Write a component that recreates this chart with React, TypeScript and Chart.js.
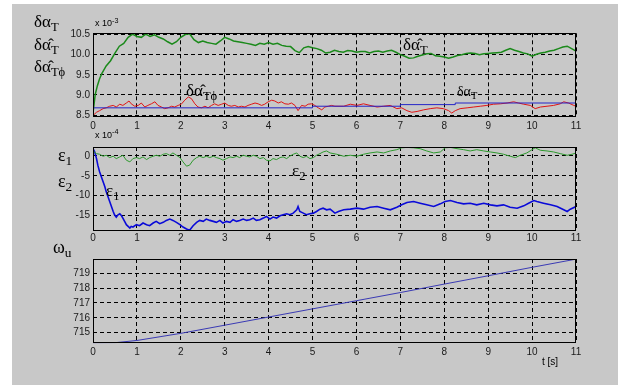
import React, { useEffect, useRef } from "react";
import { Chart, registerables } from "chart.js";
Chart.register(...registerables);

// ---------- tick labels ----------
const xTicks = [0, 1, 2, 3, 4, 5, 6, 7, 8, 9, 10, 11];
const y1Ticks = [8.5, 9, 9.5, 10, 10.5];
const y2Ticks = [-15, -10, -5, 0];
const y3Ticks = [715, 716, 717, 718, 719];

// ---------- panel 1 (x 10^-3) ----------
const tHatT = [0, 0.05, 0.1, 0.15, 0.2, 0.3, 0.4, 0.5, 0.6, 0.7, 0.8, 0.9,
  1.0, 1.1, 1.2, 1.3, 1.4, 1.5, 1.6, 1.7, 1.8, 1.9,
  2.0, 2.1, 2.2, 2.3, 2.4, 2.5, 2.6, 2.7, 2.8, 2.9,
  3.0, 3.1, 3.2, 3.3, 3.4, 3.5, 3.6, 3.7, 3.8, 3.9,
  4.0, 4.1, 4.2, 4.3, 4.4, 4.5, 4.6, 4.7, 4.8, 4.9,
  5.0, 5.1, 5.2, 5.3, 5.4, 5.5, 5.6, 5.7, 5.8, 5.9,
  6.0, 6.1, 6.2, 6.3, 6.4, 6.5, 6.6, 6.7, 6.8, 6.9,
  7.0, 7.1, 7.2, 7.3, 7.4, 7.5, 7.6, 7.7, 7.8, 7.9,
  8.0, 8.1, 8.2, 8.3, 8.4, 8.5, 8.6, 8.7, 8.8, 8.9,
  9.0, 9.1, 9.2, 9.3, 9.4, 9.5, 9.6, 9.7, 9.8, 9.9,
  10.0, 10.1, 10.2, 10.3, 10.4, 10.5, 10.6, 10.7, 10.8, 10.9, 11.0];
const vHatT = [8.55, 9.01, 9.23, 9.40, 9.53, 9.72, 9.85, 10.04, 10.21, 10.28, 10.43, 10.51,
  10.45, 10.43, 10.51, 10.45, 10.49, 10.43, 10.39, 10.32, 10.26, 10.32,
  10.43, 10.50, 10.52, 10.37, 10.30, 10.34, 10.30, 10.28, 10.26, 10.34,
  10.43, 10.39, 10.34, 10.32, 10.30, 10.28, 10.26, 10.23, 10.28, 10.26,
  10.30, 10.26, 10.28, 10.23, 10.21, 10.20, 10.10, 10.05, 10.17, 10.20,
  10.17, 10.15, 10.11, 10.04, 10.06, 10.11, 10.08, 10.06, 10.10, 10.09,
  10.06, 10.08, 10.08, 10.04, 10.08, 10.09, 10.06, 10.09, 10.11, 10.06,
  10.00, 9.96, 9.91, 9.92, 9.96, 9.99, 10.02, 10.03, 9.97, 9.96,
  9.94, 9.91, 9.94, 9.98, 10.00, 10.03, 10.04, 10.03, 10.00, 10.02,
  10.03, 10.04, 10.05, 10.06, 10.11, 10.15, 10.11, 10.08, 10.04, 10.02,
  9.96, 10.01, 10.04, 10.06, 10.09, 10.11, 10.15, 10.19, 10.21, 10.15, 10.09];

const tHatTphi = [0, 0.08, 0.15, 0.23, 0.30, 0.38, 0.46, 0.53, 0.61, 0.68, 0.76, 0.82, 0.87, 0.95,
  1.03, 1.10, 1.18, 1.25, 1.33, 1.41, 1.48, 1.56, 1.63, 1.71, 1.79, 1.86, 1.94,
  2.01, 2.09, 2.17, 2.24, 2.32, 2.39, 2.47, 2.55, 2.62, 2.70, 2.77, 2.85, 2.93,
  3.00, 3.08, 3.15, 3.23, 3.31, 3.38, 3.46, 3.53, 3.61, 3.69, 3.76, 3.84, 3.91, 3.99,
  4.07, 4.14, 4.22, 4.29, 4.37, 4.45, 4.52, 4.60, 4.67, 4.75, 4.83, 4.90, 4.98,
  5.05, 5.13, 5.21, 5.28, 5.36, 5.43, 5.51, 5.71, 5.86,
  6.01, 6.16, 6.31, 6.47, 6.62, 6.77, 6.92, 7.03, 7.15, 7.26, 7.38, 7.53, 7.68, 7.83, 7.98,
  8.10, 8.17, 8.25, 8.36, 8.52, 8.67, 8.82, 8.97, 9.12, 9.28, 9.43, 9.58, 9.69, 9.81, 9.96,
  10.07, 10.19, 10.34, 10.49, 10.64, 10.72, 10.83, 10.95, 11.0];
const vHatTphi = [8.49, 8.57, 8.61, 8.66, 8.68, 8.72, 8.74, 8.70, 8.77, 8.74, 8.80, 8.85, 8.78, 8.72,
  8.74, 8.80, 8.70, 8.74, 8.78, 8.83, 8.74, 8.70, 8.66, 8.68, 8.72, 8.70, 8.74,
  8.77, 8.87, 8.95, 8.91, 8.78, 8.70, 8.68, 8.72, 8.68, 8.74, 8.78, 8.74, 8.77,
  8.80, 8.74, 8.72, 8.74, 8.70, 8.72, 8.70, 8.74, 8.77, 8.80, 8.78, 8.74, 8.77, 8.83,
  8.87, 8.85, 8.80, 8.83, 8.78, 8.77, 8.80, 8.74, 8.61, 8.74, 8.72, 8.77, 8.78,
  8.74, 8.68, 8.63, 8.70, 8.72, 8.74, 8.72, 8.72, 8.77,
  8.74, 8.78, 8.74, 8.70, 8.72, 8.74, 8.66, 8.68, 8.61, 8.57, 8.59, 8.63, 8.66, 8.68, 8.66,
  8.61, 8.55, 8.61, 8.66, 8.68, 8.70, 8.72, 8.74, 8.77, 8.78, 8.80, 8.83, 8.80, 8.77, 8.74,
  8.66, 8.70, 8.72, 8.74, 8.78, 8.83, 8.80, 8.74, 8.72];

const tTrue = [0, 5, 7, 8.25, 11];
const vTrue = [8.68, 8.72, 8.76, 8.80, 8.80];

// ---------- panel 2 (x 10^-4) ----------
const tEps2 = [0, 0.08, 0.15, 0.23, 0.30, 0.38, 0.46, 0.53, 0.61, 0.68, 0.76, 0.84, 0.91, 0.99,
  1.06, 1.14, 1.22, 1.29, 1.37, 1.44, 1.52, 1.60, 1.67, 1.75, 1.82, 1.90, 1.98,
  2.05, 2.13, 2.20, 2.28, 2.36, 2.43, 2.51, 2.58, 2.66, 2.74, 2.81, 2.89, 2.96,
  3.04, 3.12, 3.19, 3.27, 3.34, 3.42, 3.50, 3.57, 3.65, 3.72, 3.80, 3.88, 3.95,
  4.03, 4.10, 4.18, 4.26, 4.33, 4.41, 4.48, 4.56, 4.64, 4.71, 4.79, 4.86, 4.94,
  5.02, 5.09, 5.17, 5.24, 5.32, 5.40, 5.55, 5.71, 5.86,
  6.01, 6.16, 6.31, 6.47, 6.62, 6.77, 6.92, 7.03, 7.15, 7.30, 7.45, 7.60, 7.76, 7.91,
  8.02, 8.14, 8.29, 8.44, 8.59, 8.74, 8.90, 9.05, 9.20, 9.35, 9.50, 9.62, 9.73, 9.88,
  10.0, 10.07, 10.19, 10.34, 10.49, 10.64, 10.80, 10.91, 11.0];
const vEps2 = [1.25, 0.58, 0.42, -0.08, 0.17, -0.42, -0.08, -0.67, -0.25, 0.17, -1.08, -1.5, -0.67, -0.42,
  -0.67, -0.25, -0.92, -0.42, -0.08, 0.17, -0.08, 0.42, 0.58, 0.17, 0.75, 0.17, -0.42,
  -1.5, -2.58, -2.33, -1.08, -0.42, -0.08, -0.42, -0.08, -0.42, -0.08, -0.42, -0.67, -1.08,
  -0.67, -0.25, -0.42, -0.08, -0.42, 0.17, -0.08, -0.25, 0.17, -0.08, -0.67, -0.42, -1.08,
  -1.25, -0.67, -0.92, -0.42, -0.25, -0.67, -0.08, 0.42, 0.75, -0.08, -0.42, -0.08, -0.67,
  -0.42, 0.17, 0.58, 1.0, 1.25, 0.75, 0.42, -0.08, 0.17,
  -0.08, 0.42, 0.75, 1.0, 0.75, 1.25, 1.58, 2.05, 2.15, 2.05, 1.83, 1.25, 0.75, 1.0,
  2.05, 2.15, 1.83, 1.58, 1.25, 1.58, 1.25, 1.0, 0.75, 0.42, -0.08, -0.42, 0.17, 0.75,
  1.58, 2.05, 1.42, 1.25, 1.0, 0.58, 0.17, 0.42, 0.75];

const tEps1 = [0, 0.04, 0.08, 0.11, 0.15, 0.19, 0.23, 0.27, 0.30, 0.34, 0.38, 0.42, 0.46, 0.49,
  0.53, 0.57, 0.61, 0.65, 0.68, 0.72, 0.76, 0.80, 0.84, 0.87, 0.91, 0.99,
  1.06, 1.14, 1.22, 1.29, 1.37, 1.44, 1.52, 1.60, 1.67, 1.75, 1.82, 1.90, 1.98,
  2.05, 2.13, 2.20, 2.28, 2.36, 2.43, 2.51, 2.58, 2.66, 2.74, 2.81, 2.89, 2.96,
  3.04, 3.12, 3.19, 3.27, 3.34, 3.42, 3.50, 3.57, 3.65, 3.72, 3.80, 3.88, 3.95,
  4.03, 4.10, 4.18, 4.26, 4.33, 4.41, 4.48, 4.56, 4.64, 4.67, 4.71, 4.79, 4.86, 4.94,
  5.02, 5.09, 5.17, 5.24, 5.32, 5.40, 5.51, 5.59, 5.71, 5.86,
  6.01, 6.16, 6.31, 6.47, 6.62, 6.77, 6.92, 7.03, 7.15, 7.30, 7.45, 7.60, 7.76, 7.91,
  8.02, 8.14, 8.29, 8.44, 8.59, 8.74, 8.90, 9.05, 9.20, 9.35, 9.50, 9.66, 9.81, 9.92,
  10.04, 10.11, 10.26, 10.42, 10.57, 10.72, 10.80, 10.87, 11.0];
const vEps1 = [1.83, 1.0, -0.67, -2.33, -4.0, -5.25, -6.5, -7.75, -9.0, -10.25, -11.5, -12.75, -14.0, -14.83,
  -15.42, -14.83, -14.58, -15.08, -15.67, -16.5, -17.33, -17.75, -18.17, -17.75, -17.92, -17.33,
  -17.58, -16.92, -17.33, -17.58, -16.92, -16.5, -17.08, -16.75, -16.25, -15.92, -16.25, -16.75, -17.33,
  -17.92, -18.42, -18.75, -17.58, -16.75, -16.25, -16.5, -15.92, -16.25, -16.5, -16.75, -16.25, -16.92,
  -16.5, -16.75, -16.08, -16.5, -16.25, -15.92, -16.25, -16.08, -15.67, -16.25, -16.08, -15.67, -15.25,
  -15.92, -15.42, -15.67, -15.08, -14.83, -14.58, -14.83, -14.42, -13.58, -12.75, -14.0, -14.42, -14.83, -14.58,
  -14.42, -14.0, -13.42, -13.17, -13.58, -13.42, -14.42, -14.0, -13.58, -13.42,
  -13.17, -13.42, -12.92, -12.75, -13.17, -13.58, -12.92, -12.33, -11.75, -11.5, -11.92, -12.33, -12.75, -12.08,
  -11.5, -11.25, -11.75, -12.08, -11.92, -12.33, -11.92, -12.33, -12.58, -12.33, -12.92, -13.17, -12.58, -11.92,
  -11.25, -11.5, -11.92, -12.33, -12.75, -13.58, -14.0, -13.42, -12.75];

// ---------- panel 3 ----------
const tOmega = [0, 0.5, 1, 2, 3, 4, 5, 6, 7, 8, 9, 10, 11];
const vOmega = [714.3, 714.32, 714.47, 714.95, 715.5, 716.05, 716.6, 717.15, 717.7, 718.27, 718.83, 719.4, 719.95];

const pts = (t: number[], v: number[]) => t.map((x, i) => ({ x, y: v[i] }));

const FIG_W = 625;
const PLOT_LEFT = 93;
const PLOT_RIGHT = 576;

const boxPlugin = {
  id: "box",
  afterDraw(chart: any) {
    const { ctx, chartArea: a } = chart;
    ctx.save();
    ctx.strokeStyle = "#000";
    ctx.lineWidth = 1;
    const l = Math.round(a.left) + 0.5;
    const t = Math.round(a.top) + 0.5;
    const r = Math.round(a.right) - 0.5;
    const b = Math.round(a.bottom) - 0.5;
    ctx.strokeRect(l, t, r - l, b - t);
    ctx.restore();
  },
};

const tickFont = { family: "'Liberation Sans', Arial, sans-serif", size: 10 };

function makeConfig(p: {
  datasets: any[];
  yMin: number;
  yMax: number;
  yTicks: number[];
  padTop: number;
  xAxisH: number;
  xPad: number;
}) {
  const grid = { color: "#000", lineWidth: 1, drawTicks: false };
  const border = { display: false, dash: [4, 3] };
  return {
    type: "line",
    data: { datasets: p.datasets },
    options: {
      animation: false,
      responsive: false,
      devicePixelRatio: 1,
      parsing: false,
      layout: { padding: { left: 0, right: FIG_W - PLOT_RIGHT, top: p.padTop, bottom: 0 } },
      plugins: { legend: { display: false }, tooltip: { enabled: false } },
      elements: { point: { radius: 0 }, line: { tension: 0 } },
      scales: {
        x: {
          type: "linear",
          min: 0,
          max: 11,
          afterBuildTicks: (s: any) => { s.ticks = xTicks.map((v) => ({ value: v })); },
          afterFit: (s: any) => { s.height = p.xAxisH; },
          ticks: { font: tickFont, color: "#1a1a1a", padding: p.xPad, autoSkip: false, maxRotation: 0 },
          grid,
          border,
        },
        y: {
          type: "linear",
          min: p.yMin,
          max: p.yMax,
          afterBuildTicks: (s: any) => { s.ticks = p.yTicks.map((v) => ({ value: v })); },
          afterFit: (s: any) => { s.width = PLOT_LEFT; },
          ticks: { font: tickFont, color: "#1a1a1a", padding: 3 },
          grid,
          border,
        },
      },
    },
    plugins: [boxPlugin],
  };
}

function Panel(props: { top: number; height: number; cfg: any }) {
  const ref = useRef<HTMLCanvasElement>(null);
  useEffect(() => {
    if (!ref.current) return;
    const chart = new Chart(ref.current, props.cfg);
    return () => chart.destroy();
  }, []);
  return (
    <canvas
      ref={ref}
      width={FIG_W}
      height={props.height}
      style={{ position: "absolute", left: 0, top: props.top, width: FIG_W, height: props.height }}
    />
  );
}

const serif = "'Liberation Serif', 'Times New Roman', 'DejaVu Serif', serif";
const sans = "'Liberation Sans', Arial, sans-serif";

function Lbl(p: { x: number; base: number; main: string; sub?: string; size?: number; font?: string; sup?: boolean }) {
  const size = p.size ?? 17;
  const font = p.font ?? serif;
  const k = font === serif ? 0.8375 : 0.8465;
  return (
    <span
      style={{
        position: "absolute",
        left: p.x,
        top: p.base - k * size,
        fontFamily: font,
        fontSize: size,
        lineHeight: 1,
        whiteSpace: "nowrap",
        color: "#000",
      }}
    >
      {p.main}
      {p.sub ? (
        <span style={{ position: "relative", top: p.sup ? "-0.45em" : "0.3em", fontSize: p.sup ? "0.8em" : "0.74em" }}>
          {p.sub}
        </span>
      ) : null}
    </span>
  );
}

export default function App() {
  const cfg1 = makeConfig({
    datasets: [
      { data: pts(tTrue, vTrue), borderColor: "#2424c8", borderWidth: 1, stepped: true },
      { data: pts(tHatTphi, vHatTphi), borderColor: "#e01414", borderWidth: 1 },
      { data: pts(tHatT, vHatT), borderColor: "#1b8a1b", borderWidth: 1.5 },
    ],
    yMin: 8.46,
    yMax: 10.53,
    yTicks: y1Ticks,
    padTop: 13.3,
    xAxisH: 21.3,
    xPad: 4,
  });
  const cfg2 = makeConfig({
    datasets: [
      { data: pts(tEps2, vEps2), borderColor: "#2e9a2e", borderWidth: 1 },
      { data: pts(tEps1, vEps1), borderColor: "#0a0ad8", borderWidth: 1.6 },
    ],
    yMin: -19,
    yMax: 2.25,
    yTicks: y2Ticks,
    padTop: 8.4,
    xAxisH: 18.7,
    xPad: 1,
  });
  const cfg3 = makeConfig({
    datasets: [{ data: pts(tOmega, vOmega), borderColor: "#3a3ab4", borderWidth: 1 }],
    yMin: 714.28,
    yMax: 719.96,
    yTicks: y3Ticks,
    padTop: 8.3,
    xAxisH: 21.7,
    xPad: 3.4,
  });

  return (
    <div style={{ position: "fixed", left: 0, top: 0, width: 625, height: 385, background: "#fff", overflow: "hidden" }}>
      <div style={{ position: "absolute", left: 12, top: 4, width: 606, height: 381, background: "#c8c8c8" }} />
      <Panel top={20} height={118} cfg={cfg1} />
      <Panel top={138} height={112} cfg={cfg2} />
      <Panel top={250} height={115} cfg={cfg3} />

      <Lbl x={34} base={27} main="δα" sub="T" />
      <Lbl x={34} base={50} main={"δα\u0302"} sub="T" />
      <Lbl x={34} base={72.5} main={"δα\u0302"} sub={"T\u03D5"} />
      <Lbl x={95} base={26.7} main="x 10" sub="-3" size={9} font={sans} sup />

      <Lbl x={403} base={50.5} main={"δα\u0302"} sub="T" />
      <Lbl x={186} base={96.5} main={"δα\u0302"} sub={"T\u03D5"} />
      <Lbl x={457} base={97} main="δα" sub="T" size={14} />

      <Lbl x={58} base={161} main="ε" sub="1" size={18} />
      <Lbl x={58} base={187} main="ε" sub="2" size={18} />
      <Lbl x={95} base={138.3} main="x 10" sub="-4" size={9} font={sans} sup />
      <Lbl x={106} base={196} main="ε" sub="1" />
      <Lbl x={292} base={176} main="ε" sub="2" />

      <Lbl x={53} base={253} main="ω" sub="u" size={18} />
      <Lbl x={542} base={365} main="t  [s]" size={10} font={sans} />
    </div>
  );
}
